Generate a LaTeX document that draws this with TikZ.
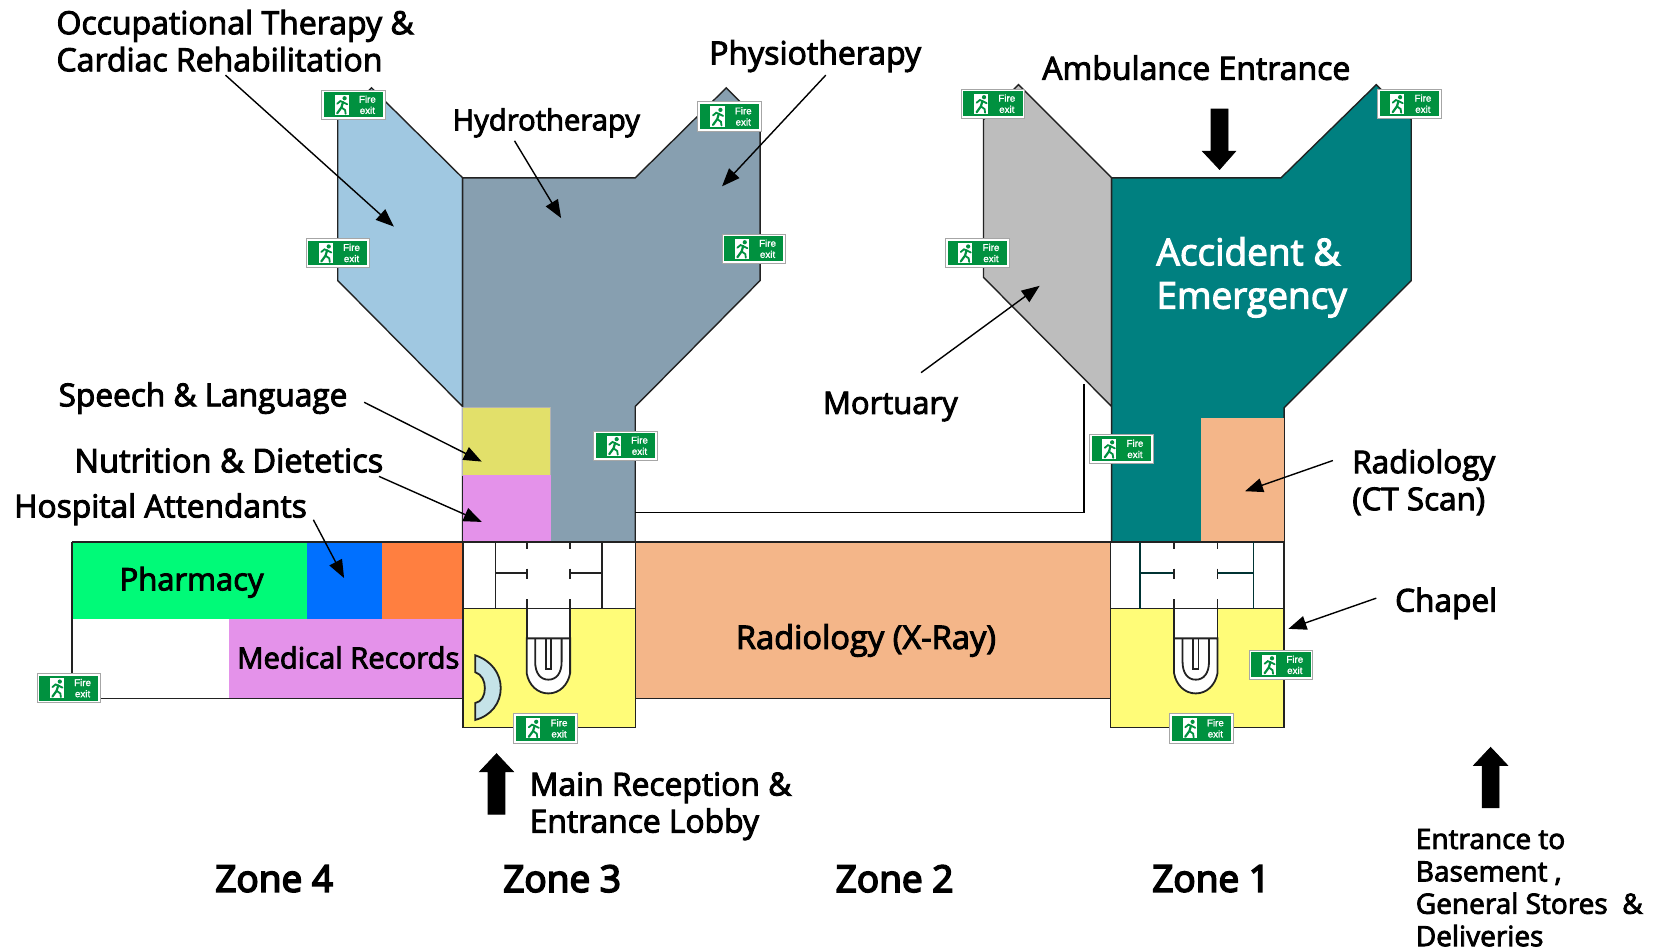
\documentclass[tikz,border=0pt]{standalone}
\usepackage{fontspec}
\setmainfont[FakeBold=3]{Open Sans}
\newfontfamily\zonefont[FakeBold=4.5]{Open Sans}
\newfontfamily\signfont[FakeBold=1.5]{Liberation Sans}
\usetikzlibrary{arrows.meta}
\definecolor{paleblue}{HTML}{A0C8E1}
\definecolor{slateblue}{HTML}{879FB0}
\definecolor{silvergrey}{HTML}{BDBDBD}
\definecolor{tealae}{HTML}{008080}
\definecolor{peach}{HTML}{F4B689}
\definecolor{mustard}{HTML}{E2E06A}
\definecolor{orchid}{HTML}{E492EA}
\definecolor{springg}{HTML}{00FA78}
\definecolor{brightblue}{HTML}{0070FF}
\definecolor{orangeb}{HTML}{FF7F40}
\definecolor{lobby}{HTML}{FFFC78}
\definecolor{deskblue}{HTML}{C5E3E8}
\definecolor{signgreen}{HTML}{00913F}
\definecolor{walldark}{HTML}{222222}
\tikzset{
  x=0.52934pt,y=-0.52934pt,
  wall/.style={draw=walldark,line width=0.7pt},
  core/.style={draw=walldark,line width=0.9pt},
  label/.style={font=\fontsize{#1}{18.5}\selectfont,text=black,inner sep=0pt},
  label/.default=15.5,
  leftlabel/.style={label=#1,anchor=west,align=left},
  leftlabel/.default=15.5,
  midlabel/.style={label=#1,anchor=center,align=center},
  midlabel/.default=15.5,
  zonelabel/.style={font=\zonefont\fontsize{18.5}{22}\selectfont,inner sep=0pt,anchor=center},
  pointer/.style={draw=black,line width=0.7pt,-{Triangle[length=9pt,width=7pt]}},
  bigarrow/.style={draw=black,fill=black},
  signbox/.style={draw=gray!70,fill=white,line width=0.4pt,minimum width=31.8pt,minimum height=14.6pt,inner sep=0pt},
  signfill/.style={fill=signgreen,draw=none,minimum width=29.6pt,minimum height=12.4pt,inner sep=0pt},
  signtext/.style={font=\signfont\fontsize{4.9}{5.6}\selectfont,text=white,align=center,inner sep=0pt},
}
% fire exit sign: name, x, y
\newcommand{\firesign}[3]{%
  \node[signbox] (#1) at (#2,#3) {};
  \node[signfill] (#1g) at (#1.center) {};
  \node[signtext] (#1t) at ([xshift=6.9pt]#1.center) {Fire\\exit};
  \begin{scope}[shift={(#2,#3)}]
    \fill[white] (-18,-9.5) rectangle (-4.5,9.5);
    \draw[signgreen,line width=1.1pt,line cap=round] (-10,-2.5) -- (-11.5,2.5) -- (-15.5,8);
    \draw[signgreen,line width=0.9pt,line cap=round] (-11.5,2.5) -- (-8,5) -- (-7.5,8.5)
      (-15.5,-1) -- (-12.5,-3.5) -- (-10,-2.5) -- (-6,-0.5);
    \fill[signgreen] (-8.5,-6.2) circle (2);
  \end{scope}
}
% stair and lift core: x, y, inner wall left, inner wall right, wall colour
\newcommand{\corewalls}[5]{%
  \begin{scope}[shift={(#1,#2)}]
    \draw[core,draw=#5] (#3,0) -- (#3,63) (#4,0) -- (#4,63)
      (#3,29) -- (60,29) (101,29) -- (#4,29);
    \draw[core] (60,0) -- (60,7) (101,0) -- (101,7)
      (60,25) -- (60,35) (101,25) -- (101,35)
      (60,54) -- (60,124) (101,54) -- (101,124);
    \fill[white] (60,63) rectangle (101,91);
    \draw[core,fill=white] (60,91) -- (60,124) .. controls (62,135) and (70,143) .. (80.5,143)
      .. controls (91,143) and (99,135) .. (101,124) -- (101,91) -- cycle;
    \draw[core] (68,91) -- (68,113) .. controls (68,124) and (73,130) .. (80.5,130)
      .. controls (88,130) and (93,124) .. (93,113) -- (93,91);
    \draw[core] (78,91) -- (78,120) -- (83,120) -- (83,91);
    \draw[core] (60,63) -- (60,91) (101,63) -- (101,91);
  \end{scope}
}
\begin{document}
\begin{tikzpicture}
\useasboundingbox (0,0) rectangle (1568,898.3);
% upper wings
\draw[wall,fill=paleblue] (437,168) -- (351,83) -- (319,113) -- (319,265) -- (437,384) -- cycle;
\draw[wall,fill=slateblue] (437,168) -- (600,168) -- (686,83) -- (718,115) -- (718,265) -- (600,384) -- (600,512) -- (437,512) -- cycle;
\fill[mustard,draw=gray!60,line width=0.4pt] (437,385) rectangle (520,449);
\fill[orchid] (437,449) rectangle (520,512);
\draw[wall,fill=silvergrey] (1050,168) -- (962,80) -- (929,113) -- (929,262) -- (1050,384) -- cycle;
\draw[wall,fill=tealae] (1050,168) -- (1210,168) -- (1300,80) -- (1333,113) -- (1333,265) -- (1213,385) -- (1213,512) -- (1050,512) -- cycle;
\fill[peach] (1134,395) rectangle (1213,512);
% link corridor
\coordinate (linkA) at (600,484);
\coordinate (linkB) at (1024,363);
\draw[draw=black,line width=0.7pt] (linkA) -| (linkB);
% ground floor
\fill[white] (68,585) rectangle (216,660);
\draw[wall] (216,660) -- (68,660) -- (68,512);
\fill[springg] (68,512) rectangle (290,585);
\fill[brightblue] (290,512) rectangle (361,585);
\fill[orangeb] (361,512) rectangle (437,585);
\fill[orchid] (216,585) rectangle (437,660);
\draw[wall] (68,512) -- (437,512) (216,660) -- (437,660) (68,512) -- (68,660);
\fill[peach] (600,512) rectangle (1049,660);
\draw[wall] (600,512) -- (1049,512) (600,660) -- (1049,660);
% lobbies
\fill[white] (437.5,512) rectangle (600,575);
\fill[lobby] (437.5,575) rectangle (600,687);
\draw[wall] (437.5,512) rectangle (600,687) (437.5,575) -- (600,575);
\fill[white] (1049,512) rectangle (1213,575);
\fill[lobby] (1049,575) rectangle (1213,687);
\draw[wall] (1049,512) rectangle (1213,687) (1049,575) -- (1213,575);
\corewalls{437.5}{512}{30.5}{131}{walldark}
\corewalls{1049}{512}{28}{135}{tealae!40!black}
% reception desk
\draw[core,fill=deskblue] (449,619) .. controls (464,624) and (473,636) .. (473,650)
  .. controls (473,664) and (464,676) .. (449,680) -- (449,664)
  .. controls (455,663) and (458,657) .. (458,650)
  .. controls (458,643) and (455,637) .. (449,635) -- cycle;
% big block arrows
\draw[bigarrow] (1144,103) -- (1160,103) -- (1160,143) -- (1167,143) -- (1152,160) -- (1136,143) -- (1144,143) -- cycle;
\draw[bigarrow] (461,769) -- (477,769) -- (477,729) -- (485,729) -- (469,712) -- (453,729) -- (461,729) -- cycle;
\draw[bigarrow] (1400,763) -- (1416,763) -- (1416,723) -- (1424,723) -- (1408,706) -- (1392,723) -- (1400,723) -- cycle;
% signs
\firesign{s1}{334}{99}
\firesign{s2}{319}{239}
\firesign{s3}{689}{110}
\firesign{s4}{712}{235}
\firesign{s5}{591}{421}
\firesign{s6}{938}{98}
\firesign{s7}{923}{239}
\firesign{s8}{1331}{98}
\firesign{s9}{1059}{424}
\firesign{s10}{65}{650}
\firesign{s11}{515}{688}
\firesign{s12}{1135}{688}
\firesign{s13}{1210}{628}
% labels
\node[leftlabel=16] (ot) at (53,38.5) {Occupational Therapy \&\\Cardiac Rehabilitation};
\node[midlabel=16] (physio) at (770,53) {Physiotherapy};
\node[midlabel=16] (amb) at (1130,64) {Ambulance Entrance};
\node[midlabel=14.6] (hydro) at (516,116) {Hydrotherapy};
\node[leftlabel,text=white,font=\fontsize{18.5}{21.7}\selectfont] (ae) at (1092,262) {Accident \&\\Emergency};
\node[leftlabel=15.8] (speech) at (55,376) {Speech \& Language};
\node[leftlabel=16.3] (nutr) at (70,435) {Nutrition \& Dietetics};
\node[leftlabel=15.85] (attend) at (13,481) {Hospital Attendants};
\node[midlabel] (mort) at (841,384) {Mortuary};
\node[leftlabel=15.7] (ct) at (1277,455.5) {Radiology\\(CT Scan)};
\node[midlabel=15.8] (chapel) at (1366,570) {Chapel};
\node[midlabel] (pharm) at (181,550) {Pharmacy};
\node[midlabel=14.6] (rec) at (329,621) {Medical Records};
\node[midlabel=16.3] (xray) at (818,605) {Radiology (X-Ray)};
\node[leftlabel=15.9] (main) at (500,761.5) {Main Reception \&\\Entrance Lobby};
\node[zonelabel] (z4) at (259,830) {Zone 4};
\node[zonelabel] (z3) at (531,830) {Zone 3};
\node[zonelabel] (z2) at (845,830) {Zone 2};
\node[zonelabel] (z1) at (1144,830) {Zone 1};
\node[leftlabel,font=\fontsize{14}{16.2}\selectfont] (base) at (1337,838.5) {Entrance to\\Basement ,\\General Stores~~\&\\Deliveries};
% pointers
\coordinate (a1) at (213,71); \coordinate (b1) at (372,214);
\coordinate (a2) at (780,71); \coordinate (b2) at (682,176);
\coordinate (a3) at (486,133); \coordinate (b3) at (530,206);
\coordinate (a4) at (870,352); \coordinate (b4) at (982,270);
\coordinate (a5) at (344,380); \coordinate (b5) at (455,436);
\coordinate (a6) at (358,450); \coordinate (b6) at (455,493);
\coordinate (a7) at (296,491); \coordinate (b7) at (325,546);
\coordinate (a8) at (1259,435); \coordinate (b8) at (1176,464);
\coordinate (a9) at (1300,565); \coordinate (b9) at (1217,594);
\foreach \i in {1,...,9} {\draw[pointer] (a\i) -- (b\i);}
\end{tikzpicture}
\end{document}
